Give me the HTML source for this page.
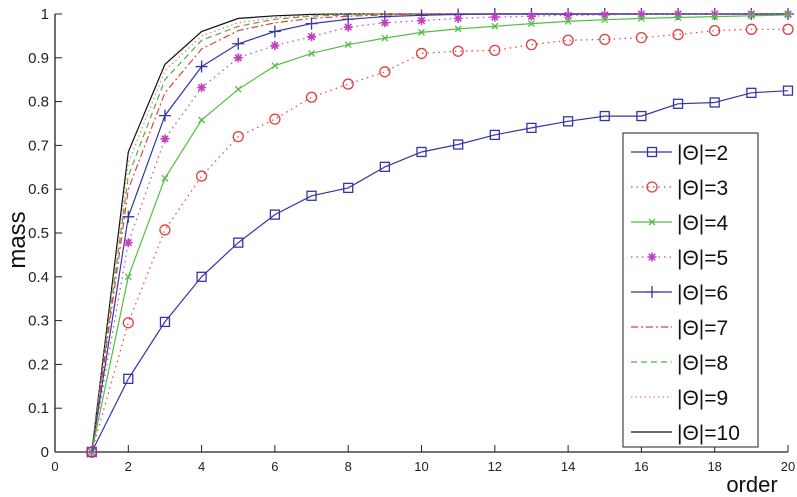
<!DOCTYPE html>
<html><head><meta charset="utf-8"><style>
html,body{margin:0;padding:0;background:#fff;}
svg{display:block;font-family:"Liberation Sans",sans-serif;}
</style></head><body>
<svg id="s" width="797" height="497" xmlns="http://www.w3.org/2000/svg"></svg>
<script>
const s=document.getElementById('s');
const X0=55,X1=788,Y0=452,Y1=14;
const px=v=>X0+(X1-X0)*v/20, py=v=>Y0-(Y0-Y1)*v;
let h='';
h+=`<line x1="${X0}" y1="${Y0}" x2="${X1}" y2="${Y0}" stroke="#222" stroke-width="1.3"/>`;
h+=`<line x1="${X0}" y1="${Y0}" x2="${X0}" y2="${Y1}" stroke="#222" stroke-width="1.3"/>`;
for(let i=0;i<=20;i+=2){const x=px(i);h+=`<line x1="${x}" y1="${Y0}" x2="${x}" y2="${Y0-7}" stroke="#222"/>`;
h+=`<text x="${x}" y="${Y0+19}" font-size="13" text-anchor="middle" fill="#222">${i}</text>`;}
for(let i=0;i<=10;i++){const y=py(i/10);h+=`<line x1="${X0}" y1="${y}" x2="${X0+7}" y2="${y}" stroke="#222"/>`;
h+=`<text x="${X0-6}" y="${y+5}" font-size="15" text-anchor="end" fill="#222">${i==0?'0':i==10?'1':'0.'+i}</text>`;}
h+=`<text x="25" y="240" font-size="24" text-anchor="middle" transform="rotate(-90 25 240)" fill="#111">mass</text>`;
h+=`<text x="752" y="492" font-size="22" text-anchor="middle" fill="#111">order</text>`;
const fill=(a,n)=>{while(a.length<n)a.push(1);return a;};
const S=[
{c:'#3535a8',d:'',m:'sq',v:[0,0.167,0.297,0.40,0.478,0.542,0.585,0.603,0.651,0.685,0.702,0.724,0.74,0.755,0.767,0.767,0.795,0.798,0.82,0.825]},
{c:'#e04040',d:'1.5 4',m:'o',v:[0,0.295,0.507,0.63,0.72,0.76,0.81,0.84,0.868,0.91,0.915,0.917,0.93,0.94,0.942,0.946,0.953,0.962,0.965,0.965]},
{c:'#50c040',d:'',m:'x',v:[0,0.40,0.625,0.758,0.828,0.882,0.91,0.93,0.945,0.958,0.966,0.972,0.978,0.983,0.987,0.99,0.992,0.994,0.996,0.998]},
{c:'#c040c0',d:'1.5 4',m:'st',v:fill([0,0.478,0.715,0.832,0.9,0.928,0.948,0.97,0.98,0.985,0.99,0.993,0.995,0.997,0.998],20)},
{c:'#3535a8',d:'',m:'+',v:fill([0,0.537,0.768,0.88,0.932,0.96,0.978,0.988,0.994,0.997,0.999],20)},
{c:'#e04040',d:'7 3 2 3',m:'',v:fill([0,0.60,0.82,0.92,0.962,0.98,0.99,0.995,0.998],20)},
{c:'#50b040',d:'6 4',m:'',v:fill([0,0.63,0.85,0.94,0.972,0.988,0.995,0.998],20)},
{c:'#e08080',d:'1.5 3',m:'',v:fill([0,0.66,0.87,0.95,0.98,0.992,0.997],20)},
{c:'#111',d:'',m:'',v:fill([0,0.685,0.885,0.96,0.99,0.996,0.999],20)}];
function mk(m,x,y,c){
 if(m=='sq')return `<rect x="${x-4.5}" y="${y-4.5}" width="9" height="9" fill="none" stroke="${c}" stroke-width="1.3"/>`;
 if(m=='o')return `<circle cx="${x}" cy="${y}" r="5" fill="none" stroke="${c}" stroke-width="1.3"/>`;
 if(m=='x')return `<path d="M${x-3} ${y-3}L${x+3} ${y+3}M${x-3} ${y+3}L${x+3} ${y-3}" stroke="${c}" stroke-width="1.3"/>`;
 if(m=='st')return `<path d="M${x-4.5} ${y}H${x+4.5}M${x} ${y-4.5}V${y+4.5}M${x-3.2} ${y-3.2}L${x+3.2} ${y+3.2}M${x-3.2} ${y+3.2}L${x+3.2} ${y-3.2}" stroke="${c}" stroke-width="1.6"/>`;
 if(m=='+')return `<path d="M${x-6} ${y}H${x+6}M${x} ${y-6}V${y+6}" stroke="${c}" stroke-width="1.3"/>`;
 return '';}
S.slice().reverse().forEach(o=>{
 const pts=o.v.map((v,i)=>px(i+1).toFixed(1)+','+py(v).toFixed(1)).join(' ');
 h+=`<polyline points="${pts}" fill="none" stroke="${o.c}" stroke-width="1.2" ${o.d?`stroke-dasharray="${o.d}"`:''}/>`;
 if(o.m)o.v.forEach((v,i)=>{h+=mk(o.m,px(i+1),py(v),o.c);});
});
h+=mk('sq',px(1),py(0),'#a030a0');
h+=`<rect x="623" y="133" width="135" height="314" fill="#fff" stroke="#222" stroke-width="1"/>`;
S.forEach((o,i)=>{const y=152+i*35;
 h+=`<line x1="631" y1="${y}" x2="672" y2="${y}" stroke="${o.c}" stroke-width="1.2" ${o.d?`stroke-dasharray="${o.d}"`:''}/>`;
 h+=mk(o.m,652,y,o.c);
 h+=`<text x="677" y="${y+8}" font-size="21" fill="#111">|Θ|=${i+2}</text>`;});
s.innerHTML=h;
</script>
</body></html>
